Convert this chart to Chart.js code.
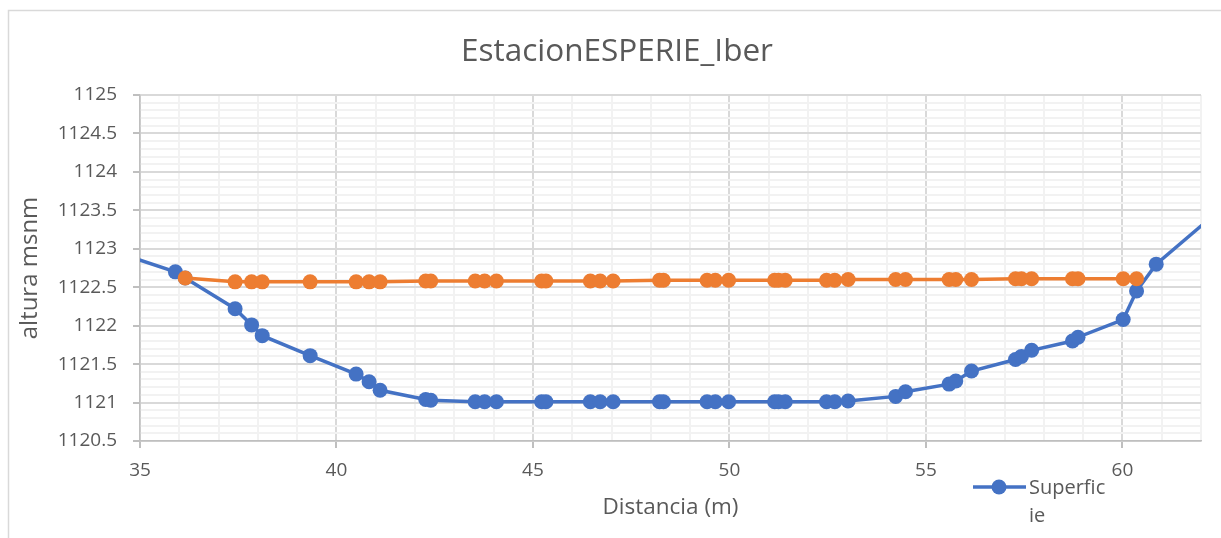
<!DOCTYPE html>
<html>
<head>
<meta charset="utf-8">
<script src="https://cdn.jsdelivr.net/npm/chart.js@4/dist/chart.umd.min.js"></script>
<style>
  html, body { margin: 0; padding: 0; background: #ffffff; }
  #wrap { width: 1221px; height: 538px; position: relative; }
</style>
</head>
<body>
<div id="wrap"><canvas id="chart"></canvas></div>
<script>
// Datos
const titulo = 'EstacionESPERIE_Iber';

const distancia = [34.0, 35.9, 36.15, 37.42, 37.84, 38.11, 39.33, 40.50, 40.83, 41.11, 42.27, 42.40,
    43.53, 43.77, 44.07, 45.22, 45.33, 46.46, 46.71, 47.04, 48.22, 48.32, 49.43, 49.64, 49.98,
    51.15, 51.25, 51.42, 52.47, 52.68, 53.02, 54.23, 54.48, 55.59, 55.76, 56.16, 57.28, 57.43,
    57.69, 58.73, 58.87, 60.02, 60.36, 60.86, 63.0];
const superficie = [1123.02, 1122.70, 1122.62, 1122.22, 1122.01, 1121.87, 1121.61, 1121.37, 1121.27, 1121.16, 1121.04, 1121.03,
    1121.01, 1121.01, 1121.01, 1121.01, 1121.01, 1121.01, 1121.01, 1121.01, 1121.01, 1121.01, 1121.01, 1121.01, 1121.01,
    1121.01, 1121.01, 1121.01, 1121.01, 1121.01, 1121.02, 1121.08, 1121.14, 1121.24, 1121.28, 1121.41, 1121.56, 1121.60,
    1121.68, 1121.80, 1121.85, 1122.08, 1122.45, 1122.80, 1123.73];

const distanciaAgua = [36.15, 37.42, 37.84, 38.11, 39.33, 40.50, 40.83, 41.11, 42.27, 42.40,
    43.53, 43.77, 44.07, 45.22, 45.33, 46.46, 46.71, 47.04, 48.22, 48.32, 49.43, 49.64, 49.98,
    51.15, 51.25, 51.42, 52.47, 52.68, 53.02, 54.23, 54.48, 55.59, 55.76, 56.16, 57.28, 57.43,
    57.69, 58.73, 58.87, 60.02, 60.36];
const nivelAgua = [1122.62, 1122.57, 1122.57, 1122.57, 1122.57, 1122.57, 1122.57, 1122.57, 1122.58, 1122.58,
    1122.58, 1122.58, 1122.58, 1122.58, 1122.58, 1122.58, 1122.58, 1122.58, 1122.59, 1122.59, 1122.59, 1122.59, 1122.59,
    1122.59, 1122.59, 1122.59, 1122.59, 1122.59, 1122.60, 1122.60, 1122.60, 1122.60, 1122.60, 1122.60, 1122.61, 1122.61,
    1122.61, 1122.61, 1122.61, 1122.61, 1122.61];

// Ejes
const xMin = 35, xMax = 62, xStep = 1, xMajor = 5;
const yMin = 1120.5, yMax = 1125, yStep = 0.1, yMajor = 0.5;

const TEXT = '#595959';
const AZUL = '#4472C4';
const NARANJA = '#ED7D31';
const FONT = "'Open Sans', sans-serif";

const isMajor = (v, step) => Math.abs(Math.round(v / step) * step - v) < 1e-6;

// Marco exterior, titulo y leyenda dibujados a mano (estilo Excel)
const marcoPlugin = {
    id: 'marco',
    beforeDraw(chart) {
        const ctx = chart.ctx;
        ctx.save();
        ctx.fillStyle = '#ffffff';
        ctx.fillRect(0, 0, chart.width, chart.height);
        ctx.strokeStyle = '#d9d9d9';
        ctx.lineWidth = 1.5;
        ctx.strokeRect(8.5, 10.5, chart.width + 50, chart.height + 50);
        ctx.restore();
    },
    afterDraw(chart) {
        const ctx = chart.ctx;
        ctx.save();
        // titulo
        ctx.fillStyle = TEXT;
        ctx.font = "31.5px " + FONT;
        ctx.textAlign = 'center';
        ctx.textBaseline = 'middle';
        ctx.fillText(titulo, 617, 52);

        // leyenda
        const ds = chart.data.datasets.find(d => d.label === 'Superficie');
        ctx.strokeStyle = ds.borderColor;
        ctx.lineWidth = 3.5;
        ctx.beginPath();
        ctx.moveTo(973, 487);
        ctx.lineTo(1026, 487);
        ctx.stroke();
        ctx.fillStyle = ds.backgroundColor;
        ctx.beginPath();
        ctx.arc(999, 487, 7.5, 0, Math.PI * 2);
        ctx.fill();
        ctx.fillStyle = TEXT;
        ctx.font = "20px " + FONT;
        ctx.textAlign = 'left';
        ctx.fillText(ds.label.substring(0, 8), 1029, 488);
        ctx.fillText(ds.label.substring(8), 1029, 516);
        ctx.restore();
    }
};

const ctx = document.getElementById('chart');
new Chart(ctx, {
    type: 'line',
    data: {
        datasets: [
            {
                label: 'Lamina de agua',
                data: distanciaAgua.map((x, i) => ({ x: x, y: nivelAgua[i] })),
                borderColor: NARANJA,
                backgroundColor: NARANJA,
                borderWidth: 3.5,
                pointRadius: 7.5,
                pointHoverRadius: 7.5,
                pointBorderWidth: 0,
                tension: 0
            },
            {
                label: 'Superficie',
                data: distancia.map((x, i) => ({ x: x, y: superficie[i] })),
                borderColor: AZUL,
                backgroundColor: AZUL,
                borderWidth: 3.5,
                pointRadius: 7.5,
                pointHoverRadius: 7.5,
                pointBorderWidth: 0,
                tension: 0
            }
        ]
    },
    options: {
        responsive: true,
        maintainAspectRatio: false,
        animation: false,
        layout: { padding: { left: 0, right: 20, top: 95, bottom: 0 } },
        plugins: {
            legend: { display: false },
            tooltip: { enabled: false },
            title: { display: false }
        },
        scales: {
            x: {
                type: 'linear',
                min: xMin,
                max: xMax,
                afterFit: (scale) => { scale.height = 97; },
                ticks: {
                    stepSize: xStep,
                    autoSkip: false,
                    maxRotation: 0,
                    color: TEXT,
                    padding: 11,
                    font: { family: FONT, size: 19 },
                    callback: (v) => isMajor(v, xMajor) ? String(v) : ''
                },
                grid: {
                    color: (c) => isMajor(c.tick.value, xMajor) ? '#d9d9d9' : '#f2f2f2',
                    lineWidth: 2,
                    tickLength: 7,
                    tickColor: (c) => isMajor(c.tick.value, xMajor) ? '#bfbfbf' : 'rgba(0,0,0,0)'
                },
                border: { color: '#bfbfbf', width: 1.5 },
                title: {
                    display: true,
                    text: 'Distancia (m)',
                    color: TEXT,
                    font: { family: FONT, size: 22.5 },
                    padding: { top: 0, bottom: 16.5 }
                }
            },
            y: {
                type: 'linear',
                min: yMin,
                max: yMax,
                afterFit: (scale) => { scale.width = 140; },
                ticks: {
                    stepSize: yStep,
                    maxTicksLimit: 1000,
                    autoSkip: false,
                    color: TEXT,
                    padding: 16,
                    font: { family: FONT, size: 19 },
                    callback: (v) => isMajor(v, yMajor) ? String(Math.round(v * 10) / 10) : ''
                },
                grid: {
                    color: (c) => isMajor(c.tick.value, yMajor) ? '#d9d9d9' : '#f2f2f2',
                    lineWidth: 2,
                    tickLength: 7,
                    tickColor: (c) => isMajor(c.tick.value, yMajor) ? '#bfbfbf' : 'rgba(0,0,0,0)'
                },
                border: { color: '#bfbfbf', width: 1.5 },
                title: {
                    display: true,
                    text: 'altura msnm',
                    color: TEXT,
                    font: { family: FONT, size: 24 },
                    padding: { top: 15.5, bottom: 0 }
                }
            }
        }
    },
    plugins: [marcoPlugin]
});
</script>
</body>
</html>
